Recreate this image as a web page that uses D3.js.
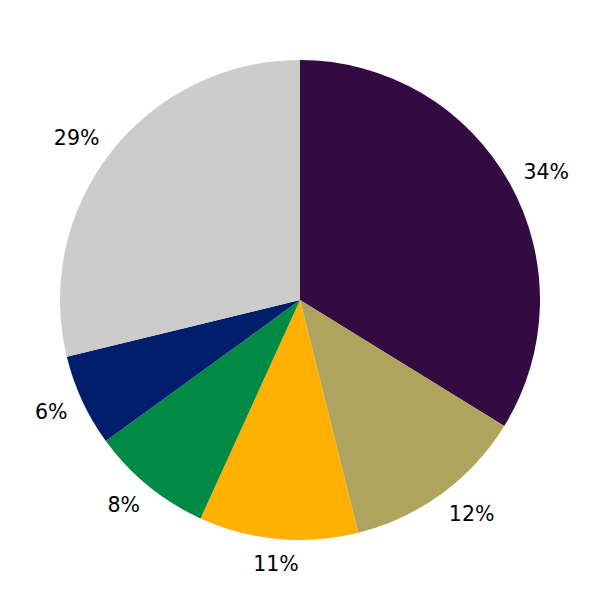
<!DOCTYPE html>
<html>
<head>
<meta charset="utf-8">
<script src="https://cdn.jsdelivr.net/npm/d3@7"></script>
<style>
  html, body { margin: 0; padding: 0; background: #ffffff; }
  svg { display: block; }
</style>
</head>
<body>
<svg id="chart" width="600" height="600"></svg>
<script>
const categories = ["A", "B", "C", "D", "E", "F"];
const values = [33.8, 12.3, 10.7, 8.2, 6.2, 28.8];
const labels = ["34%", "12%", "11%", "8%", "6%", "29%"];
const colors = ["#330A42", "#AFA45E", "#FFB000", "#008A44", "#001E6C", "#CCCCCC"];

const width = 600, height = 600;
const radius = 240;
const cx = 300, cy = 300;

const svg = d3.select("#chart");
const g = svg.append("g").attr("transform", `translate(${cx},${cy})`);

const color = d3.scaleOrdinal().domain(categories).range(colors);

const data = categories.map((c, i) => ({ cat: c, value: values[i], label: labels[i] }));

const pie = d3.pie().value(d => d.value).sort(null);
const arcs = pie(data);

const arc = d3.arc().innerRadius(0).outerRadius(radius);

g.selectAll("path.slice")
  .data(arcs)
  .join("path")
  .attr("class", "slice")
  .attr("d", arc)
  .attr("fill", d => color(d.data.cat));

const labelR = radius * 1.1;
const pad = 7;
g.selectAll("text.lbl")
  .data(arcs)
  .join("text")
  .attr("class", "lbl")
  .each(function(d) {
    const a = (d.startAngle + d.endAngle) / 2;
    const s = Math.sin(a);
    const sideways = Math.abs(s) >= 0.2;
    const anchor = !sideways ? "middle" : (s > 0 ? "start" : "end");
    const x = labelR * s - (sideways ? Math.sign(s) * pad : 0);
    const y = -labelR * Math.cos(a) + 1;
    d3.select(this)
      .attr("x", x)
      .attr("y", y)
      .attr("text-anchor", anchor)
      .attr("dominant-baseline", "central");
  })
  .attr("font-family", "DejaVu Sans, sans-serif")
  .attr("font-size", "20.5px")
  .attr("fill", "#000")
  .text(d => d.data.label);
</script>
</body>
</html>
